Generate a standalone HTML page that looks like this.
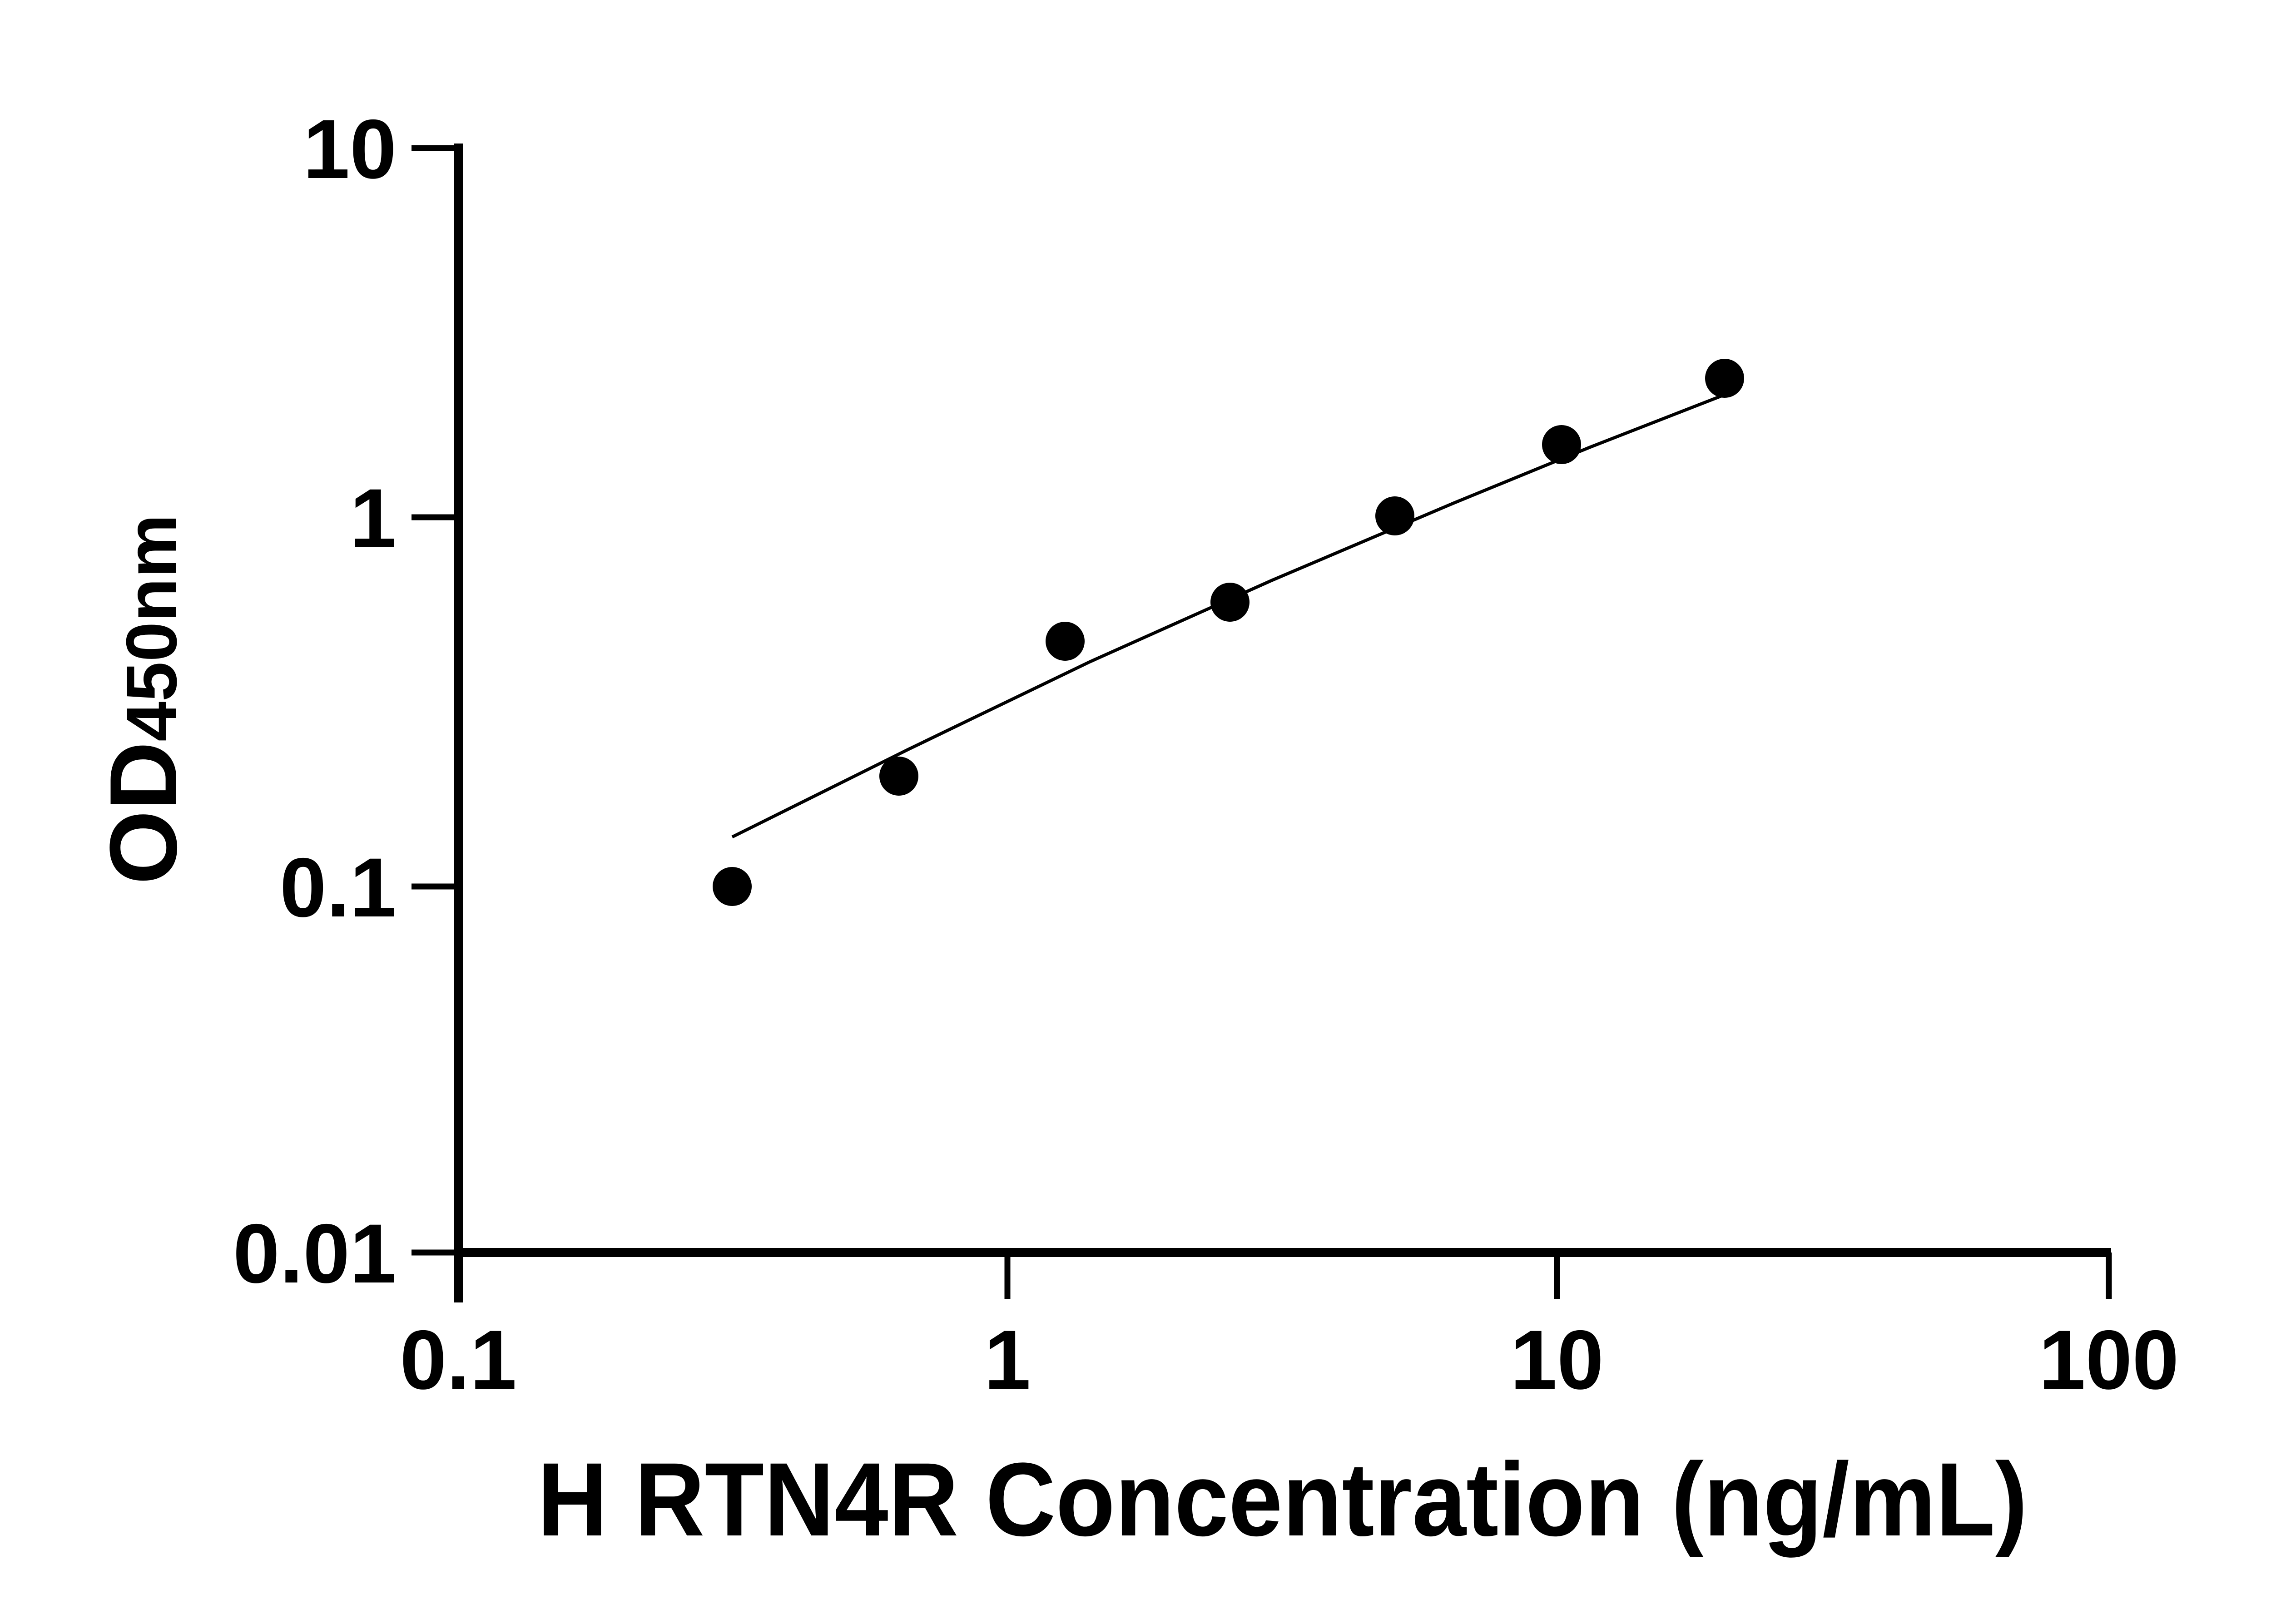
<!DOCTYPE html>
<html><head><style>html,body{margin:0;padding:0;background:#fff}svg{display:block}</style></head>
<body>
<svg width="5170" height="3576" viewBox="0 0 5170 3576" xmlns="http://www.w3.org/2000/svg" font-family="Liberation Sans, sans-serif" font-weight="bold">
<g stroke="#000" fill="none" stroke-linecap="butt">
<line x1="1009" y1="316" x2="1009" y2="2868" stroke-width="20"/>
<line x1="999" y1="2758" x2="4648" y2="2758" stroke-width="20"/>
<g stroke-width="13">
<line x1="906" y1="326" x2="1009" y2="326"/>
<line x1="906" y1="1139" x2="1009" y2="1139"/>
<line x1="906" y1="1952" x2="1009" y2="1952"/>
<line x1="906" y1="2758" x2="1009" y2="2758"/>
<line x1="2218" y1="2758" x2="2218" y2="2860"/>
<line x1="3428" y1="2758" x2="3428" y2="2860"/>
<line x1="4643" y1="2758" x2="4643" y2="2860"/>
</g>
<path d="M1612,1843 L2000,1650 L2400,1457 L2800,1278 L3200,1108 L3500,985 L3800,868" stroke-width="7"/>
</g>
<g fill="#000">
<circle cx="1612" cy="1952" r="43"/>
<circle cx="1979" cy="1709" r="43"/>
<circle cx="2345" cy="1412" r="43"/>
<circle cx="2708" cy="1326" r="43"/>
<circle cx="3071" cy="1136" r="43"/>
<circle cx="3438" cy="979" r="43"/>
<circle cx="3797" cy="833" r="43"/>
</g>
<g font-size="185" text-anchor="end">
<text x="873" y="392">10</text>
<text x="873" y="1205">1</text>
<text x="873" y="2018">0.1</text>
<text x="873" y="2824">0.01</text>
</g>
<g font-size="185" text-anchor="middle">
<text x="1009" y="3058">0.1</text>
<text x="2218" y="3058">1</text>
<text x="3428" y="3058">10</text>
<text x="4643" y="3058">100</text>
</g>
<text x="1183" y="3381" font-size="230" textLength="3281" lengthAdjust="spacingAndGlyphs">H RTN4R Concentration (ng/mL)</text>
<text transform="translate(388,1540) rotate(-90)" text-anchor="middle" font-size="210">OD<tspan font-size="158">450nm</tspan></text>
</svg>
</body></html>
